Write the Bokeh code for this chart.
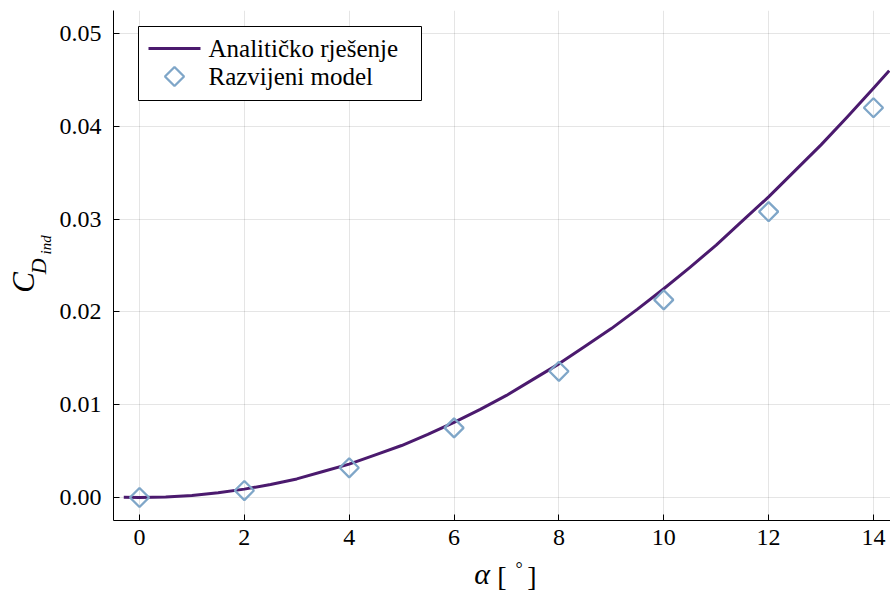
import math
from bokeh.plotting import figure
from bokeh.models import Range1d, FixedTicker, NumeralTickFormatter
from bokeh.layouts import row, column
from bokeh.core.properties import value
from bokeh.embed import file_html
from bokeh.resources import INLINE

# --- data ---
alpha_line = [-0.3, 0, 0.5, 1, 1.5, 2, 2.5, 3, 3.5, 4, 4.5, 5, 5.5, 6, 6.5, 7,
              7.5, 8, 8.5, 9, 9.5, 10, 10.5, 11, 11.5, 12, 12.5, 13, 13.5, 14,
              14.3]
cd_line = [0.00002, 0.0, 0.00006, 0.000225, 0.0005, 0.0009, 0.0014, 0.0020,
           0.0028, 0.0036, 0.0046, 0.0056, 0.0068, 0.0081, 0.0095, 0.0110,
           0.0127, 0.0144, 0.0163, 0.0182, 0.0203, 0.0225, 0.0248, 0.0272,
           0.0298, 0.0324, 0.0352, 0.0380, 0.0410, 0.0441, 0.0460]

alpha_model = [0, 2, 4, 6, 8, 10, 12, 14]
cd_model = [0.0, 0.00075, 0.0032, 0.0075, 0.0136, 0.0213, 0.0308, 0.0420]

x_ticks = [0, 2, 4, 6, 8, 10, 12, 14]
y_ticks = [0.00, 0.01, 0.02, 0.03, 0.04, 0.05]

legend_labels = ["Analitičko rješenje", "Razvijeni model"]

FONT = "Liberation Serif"
LINE_COLOR = "#4b1a6e"
MARK_COLOR = "#7fa6c8"

X0, X1 = -0.496, 14.325
Y0, Y1 = -0.00248, 0.05248

# ---------------- main plot ----------------
YL_W = 56
TOP_H = 557
p = figure(width=890 - YL_W, height=TOP_H, output_backend="svg",
           toolbar_location=None,
           x_range=Range1d(X0, X1), y_range=Range1d(Y0, Y1),
           min_border_left=113 - YL_W, min_border_right=0, min_border_top=10,
           min_border_bottom=TOP_H - 520)
p.outline_line_color = None
p.background_fill_color = "white"
p.border_fill_color = "white"

for ax in (p.xaxis[0], p.yaxis[0]):
    ax.axis_line_color = "black"
    ax.axis_line_width = 1
    ax.major_tick_in = 6
    ax.major_tick_out = 0
    ax.minor_tick_line_color = None
    ax.major_tick_line_color = "black"
    ax.major_label_text_font = FONT
    ax.major_label_text_font_size = "24px"
    ax.major_label_text_color = "black"

p.xaxis.ticker = FixedTicker(ticks=x_ticks)
p.yaxis.ticker = FixedTicker(ticks=y_ticks)
p.yaxis.formatter = NumeralTickFormatter(format="0.00")
p.xaxis.major_label_standoff = 9
p.yaxis.major_label_standoff = 12

p.grid.grid_line_color = "black"
p.grid.grid_line_alpha = 0.1
p.grid.grid_line_width = 1

p.line(alpha_line, cd_line, line_color=LINE_COLOR, line_width=3,
       line_join="round")
p.scatter(alpha_model, cd_model, marker="square", size=13.5,
          angle=math.pi / 4, fill_color="white", fill_alpha=0,
          line_color=MARK_COLOR, line_width=2.3)

# ---------------- legend (drawn by hand so the marker is a diamond) -------
FL, FB = 113, 520
fw, fh = 777, 510


def dx(px):
    return X0 + (px - FL) / fw * (X1 - X0)


def dy(py):
    return Y0 + (FB - py) / fh * (Y1 - Y0)


p.quad(left=[dx(138)], right=[dx(421)], top=[dy(26)], bottom=[dy(100)],
       fill_color="white", line_color="black", line_width=1)
p.line([dx(148), dx(200)], [dy(48), dy(48)], line_color=LINE_COLOR,
       line_width=3)
p.scatter([dx(174)], [dy(76)], marker="square", size=13.5, angle=math.pi / 4,
          fill_color="white", fill_alpha=0, line_color=MARK_COLOR,
          line_width=2.3)
p.text([dx(208), dx(208)], [dy(48), dy(76)], text=legend_labels,
       text_font=value(FONT), text_font_size=value("25px"),
       text_baseline="middle", text_align="left", text_color="black")

# ---------------- y-axis label:  C_{D_{ind}} ----------------
yl = figure(width=YL_W, height=TOP_H, output_backend="svg",
            toolbar_location=None, x_axis_type=None, y_axis_type=None,
            x_range=Range1d(0, YL_W), y_range=Range1d(TOP_H, 0),
            min_border=0)
yl.outline_line_color = None
yl.border_fill_color = "white"
yl.background_fill_color = "white"
for t, xx, yy, fs in [("C", 22.5, 297, "31px"), ("D", 37.5, 279.5, "22px"),
                      ("ind", 45.5, 256, "15px")]:
    yl.text([xx], [yy], text=[t], angle=math.pi / 2, text_align="center",
            text_baseline="middle", text_font=value(FONT),
            text_font_style="italic", text_font_size=value(fs),
            text_color="black")

# ---------------- x-axis label:  alpha [ ° ] ----------------
xl = figure(width=890, height=593 - TOP_H, output_backend="svg",
            toolbar_location=None, x_axis_type=None, y_axis_type=None,
            x_range=Range1d(0, 890), y_range=Range1d(593, TOP_H),
            min_border=0)
xl.outline_line_color = None
xl.border_fill_color = "white"
xl.background_fill_color = "white"
for t, xx, yy, fs, st in [("α", 481.5, 573, "30px", "italic"),
                          ("[", 501.5, 575.5, "28px", "normal"),
                          ("°", 518.5, 568, "18px", "normal"),
                          ("]", 531.5, 575.5, "28px", "normal")]:
    xl.text([xx], [yy], text=[t], text_align="center",
            text_baseline="middle", text_font=value(FONT),
            text_font_style=st, text_font_size=value(fs), text_color="black")

layout = column(row(yl, p), xl)
open("out.html", "w").write(file_html(layout, INLINE))
